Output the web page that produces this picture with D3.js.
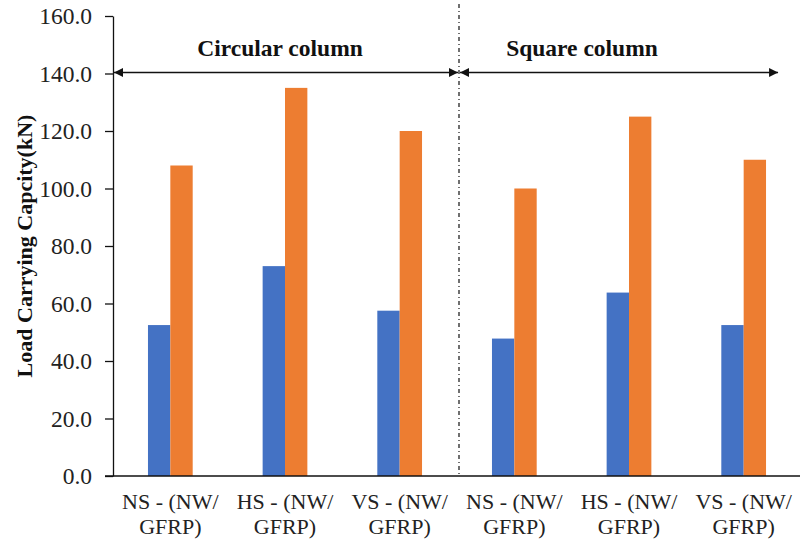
<!DOCTYPE html>
<html>
<head>
<meta charset="utf-8">
<script src="https://cdn.jsdelivr.net/npm/d3@7"></script>
<style>
  html, body { margin: 0; padding: 0; background: #fff; }
  svg { display: block; font-family: "Liberation Serif", "Times New Roman", serif; }
</style>
</head>
<body>
<svg id="chart" width="800" height="542"></svg>
<script>
// Specimen categories (two label lines each)
const categories = ["c-NS", "c-HS", "c-VS", "s-NS", "s-HS", "s-VS"];
const labelLine1 = ["NS - (NW/", "HS - (NW/", "VS - (NW/", "NS - (NW/", "HS - (NW/", "VS - (NW/"];
const labelLine2 = ["GFRP)", "GFRP)", "GFRP)", "GFRP)", "GFRP)", "GFRP)"];

// Load carrying capacity (kN) for each specimen type
const seriesNames = ["NW", "GFRP"];
const nwValues = [52.5, 73.0, 57.5, 47.8, 63.8, 52.5];
const gfrpValues = [108.0, 135.0, 120.0, 100.0, 125.0, 110.0];

const yTicks = [0, 20, 40, 60, 80, 100, 120, 140, 160];
const groupTitles = ["Circular column", "Square column"];

const colors = { NW: "#4472C4", GFRP: "#ED7D31" };
const tickFont = 23.5, catFont = 22, titleFont = 23.5, axisTitleFont = 22;

const svg = d3.select("#chart");
const plotLeft = 113, plotRight = 801, plotTop = 16, plotBottom = 476;

const x0 = d3.scaleBand().domain(categories).range([plotLeft, plotRight]).padding(0);
const bw = x0.bandwidth();
const groupW = bw * 0.39;
const x1 = d3.scaleBand().domain(seriesNames)
  .range([bw / 2 - groupW / 2, bw / 2 + groupW / 2]).padding(0);
const y = d3.scaleLinear().domain([0, 160]).range([plotBottom, plotTop]);

const rows = categories.map((c, i) => ({ cat: c, NW: nwValues[i], GFRP: gfrpValues[i] }));

// Bars
const g = svg.append("g");
g.selectAll("g.grp").data(rows).join("g")
  .attr("class", "grp")
  .attr("transform", d => `translate(${x0(d.cat)},0)`)
  .selectAll("rect")
  .data(d => seriesNames.map(s => ({ s, v: d[s] })))
  .join("rect")
  .attr("x", d => x1(d.s))
  .attr("width", x1.bandwidth())
  .attr("y", d => y(d.v))
  .attr("height", d => y(0) - y(d.v))
  .attr("fill", d => colors[d.s]);

// Y axis
const yAxis = d3.axisLeft(y).tickValues(yTicks).tickFormat(d3.format(".1f"))
  .tickSize(8).tickPadding(13).tickSizeOuter(0);
const ya = svg.append("g").attr("transform", `translate(${plotLeft},0)`).call(yAxis);
ya.select(".domain").attr("stroke", "#111").attr("stroke-width", 1.3);
ya.selectAll(".tick line").attr("stroke", "#111").attr("stroke-width", 1.3);
ya.selectAll(".tick text")
  .attr("font-family", "Liberation Serif, serif")
  .attr("font-size", tickFont).attr("fill", "#222");

// X axis baseline
svg.append("line")
  .attr("x1", plotLeft - 8).attr("x2", plotRight)
  .attr("y1", y(0)).attr("y2", y(0))
  .attr("stroke", "#111").attr("stroke-width", 1.3);

// Category labels
const labs = svg.append("g");
categories.forEach((c, i) => {
  const cx = x0(c) + bw / 2;
  const t = labs.append("text")
    .attr("x", cx).attr("text-anchor", "middle")
    .attr("font-size", catFont).attr("fill", "#222");
  t.append("tspan").attr("x", cx).attr("y", 509).text(labelLine1[i]);
  t.append("tspan").attr("x", cx).attr("y", 534).text(labelLine2[i]);
});

// Y axis title, centred on the plot height
svg.append("text")
  .attr("transform", `translate(32,${(plotTop + plotBottom) / 2}) rotate(-90)`)
  .attr("text-anchor", "middle")
  .attr("font-size", axisTitleFont).attr("font-weight", "bold").attr("fill", "#111")
  .text("Load Carrying Capcity(kN)");

// Divider between circular and square groups
const divX = x0(categories[3]) + 2;
svg.append("line")
  .attr("x1", divX).attr("x2", divX)
  .attr("y1", 4).attr("y2", y(0))
  .attr("stroke", "#111").attr("stroke-width", 1.2)
  .attr("stroke-dasharray", "4,3,1,3");

// Arrowhead markers
const defs = svg.append("defs");
["start", "end"].forEach(k => {
  defs.append("marker")
    .attr("id", "arr-" + k)
    .attr("viewBox", "0 0 10 10")
    .attr("refX", k === "end" ? 10 : 0).attr("refY", 5)
    .attr("markerWidth", 12).attr("markerHeight", 9)
    .attr("markerUnits", "userSpaceOnUse")
    .attr("orient", "auto")
    .append("path")
    .attr("d", k === "end" ? "M0,0 L10,5 L0,10 z" : "M10,0 L0,5 L10,10 z")
    .attr("fill", "#111");
});

const arrowY = 72.5;
const spans = [
  [plotLeft + 1, divX - 1],
  [divX + 1, x0(categories[5]) + bw * 0.8]
];
spans.forEach(s => {
  svg.append("line")
    .attr("x1", s[0]).attr("x2", s[1])
    .attr("y1", arrowY).attr("y2", arrowY)
    .attr("stroke", "#111").attr("stroke-width", 1.5)
    .attr("marker-start", "url(#arr-start)")
    .attr("marker-end", "url(#arr-end)");
});

// Group titles
svg.append("text").attr("x", 280).attr("y", 56)
  .attr("text-anchor", "middle").attr("font-size", titleFont).attr("font-weight", "bold").attr("fill", "#111")
  .text(groupTitles[0]);
svg.append("text").attr("x", 582).attr("y", 56)
  .attr("text-anchor", "middle").attr("font-size", titleFont).attr("font-weight", "bold").attr("fill", "#111")
  .text(groupTitles[1]);
</script>
</body>
</html>
